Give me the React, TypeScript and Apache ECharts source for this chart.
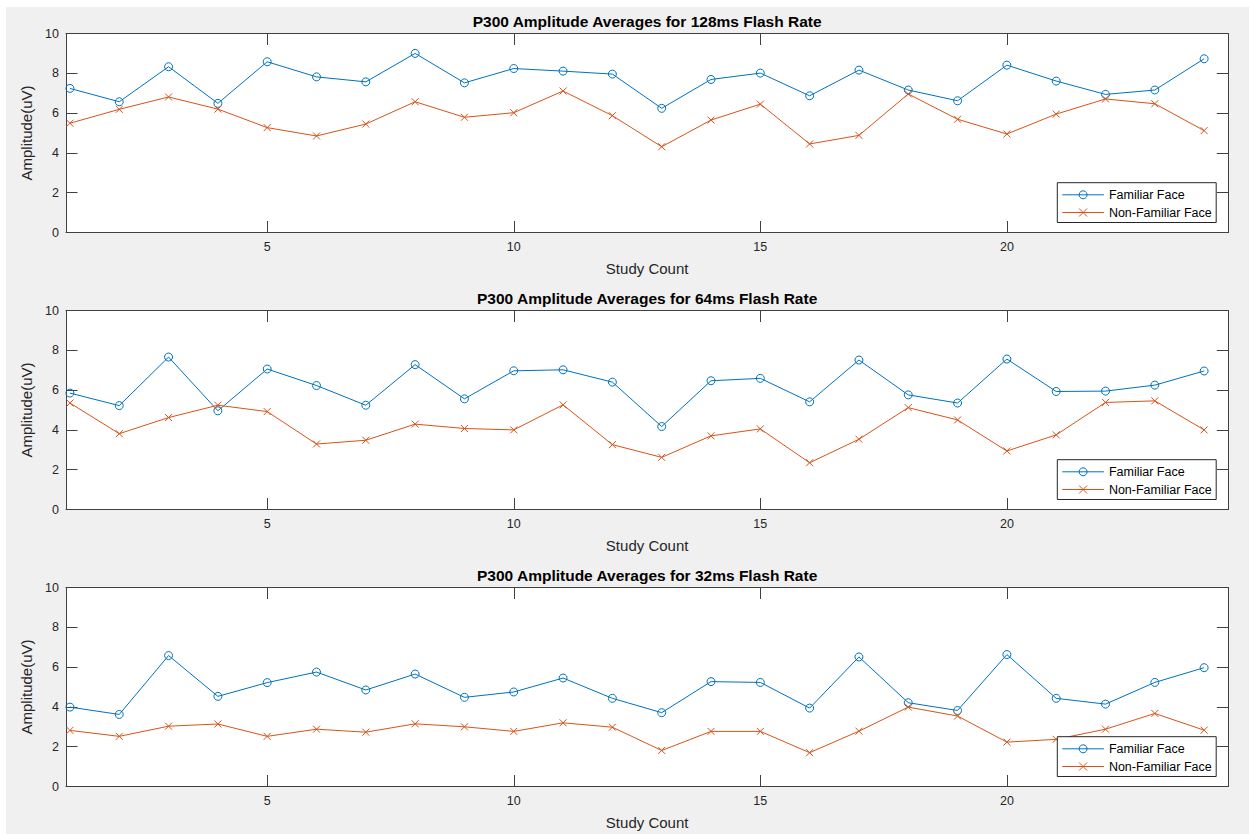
import React, { useEffect, useRef } from "react";
import * as echarts from "echarts";

const studyCount = [1,2,3,4,5,6,7,8,9,10,11,12,13,14,15,16,17,18,19,20,21,22,23,24];
const titles = [
  "P300 Amplitude Averages for 128ms Flash Rate",
  "P300 Amplitude Averages for 64ms Flash Rate",
  "P300 Amplitude Averages for 32ms Flash Rate",
];
const seriesNames = ["Familiar Face", "Non-Familiar Face"];
const xTickValues = [5, 10, 15, 20];

const familiar128 = [7.24,6.57,8.33,6.49,8.58,7.82,7.57,9.0,7.52,8.24,8.11,7.96,6.24,7.69,8.01,6.87,8.16,7.16,6.62,8.41,7.61,6.94,7.16,8.73];
const nonFamiliar128 = [5.49,6.19,6.81,6.2,5.27,4.85,5.45,6.57,5.79,6.02,7.11,5.87,4.31,5.65,6.45,4.45,4.88,6.96,5.69,4.95,5.95,6.71,6.47,5.12];
const familiar64 = [5.85,5.22,7.66,4.96,7.06,6.23,5.24,7.28,5.56,6.97,7.02,6.4,4.17,6.47,6.59,5.41,7.51,5.76,5.35,7.56,5.93,5.95,6.25,6.96];
const nonFamiliar64 = [5.35,3.81,4.62,5.24,4.92,3.29,3.48,4.29,4.07,4.0,5.26,3.26,2.62,3.7,4.05,2.35,3.53,5.12,4.5,2.94,3.75,5.38,5.46,4.0];
const familiar32 = [3.99,3.62,6.58,4.53,5.22,5.75,4.85,5.65,4.48,4.75,5.45,4.43,3.71,5.27,5.23,3.94,6.51,4.21,3.82,6.63,4.43,4.14,5.23,5.97];
const nonFamiliar32 = [2.82,2.52,3.03,3.14,2.52,2.88,2.73,3.15,3.0,2.77,3.2,2.98,1.81,2.77,2.77,1.7,2.78,3.99,3.54,2.23,2.37,2.88,3.67,2.83];

const panels = [
  [familiar128, nonFamiliar128],
  [familiar64, nonFamiliar64],
  [familiar32, nonFamiliar32],
];

const FONT = '"Liberation Sans", Arial, Helvetica, sans-serif';
const AX = "#404040";
const TXT = "#262626";
const BLUE = "#0072BD";
const ORANGE = "#D95319";
const GRID_LEFT = 66;
const GRID_W = 1162.3;
const GRID_H = 199;
const GRID_TOPS = [33.5, 310.5, 587.5];
const X_MIN = 0.92;
const X_MAX = 24.49;
const TICK_LEN = 11.5;

function buildOption() {
  const grid = GRID_TOPS.map((t) => ({
    left: GRID_LEFT,
    top: t,
    width: GRID_W,
    height: GRID_H,
    show: true,
    backgroundColor: "#ffffff",
    borderWidth: 0,
  }));

  const xBottom = GRID_TOPS.map((_, i) => ({
    gridIndex: i,
    type: "value",
    min: X_MIN,
    max: X_MAX,
    position: "bottom",
    axisLine: { show: true, onZero: false, lineStyle: { color: AX, width: 1 } },
    axisTick: { show: true, inside: true, length: TICK_LEN, customValues: xTickValues, lineStyle: { color: AX } },
    axisLabel: { show: true, customValues: xTickValues, fontSize: 12.5, color: TXT, fontFamily: FONT, margin: 8 },
    splitLine: { show: false },
    name: "Study Count",
    nameLocation: "middle",
    nameGap: 28,
    nameTextStyle: { fontSize: 15, color: TXT, fontFamily: FONT },
  }));
  const xTop = GRID_TOPS.map((_, i) => ({
    gridIndex: i,
    type: "value",
    min: X_MIN,
    max: X_MAX,
    position: "top",
    axisLine: { show: true, onZero: false, lineStyle: { color: AX, width: 1 } },
    axisTick: { show: true, inside: true, length: TICK_LEN, customValues: xTickValues, lineStyle: { color: AX } },
    axisLabel: { show: false },
    splitLine: { show: false },
  }));

  const yLeft = GRID_TOPS.map((_, i) => ({
    gridIndex: i,
    type: "value",
    min: 0,
    max: 10,
    interval: 2,
    position: "left",
    axisLine: { show: true, onZero: false, lineStyle: { color: AX, width: 1 } },
    axisTick: { show: true, inside: true, length: TICK_LEN, lineStyle: { color: AX } },
    axisLabel: { show: true, fontSize: 12.5, color: TXT, fontFamily: FONT, margin: 7 },
    splitLine: { show: false },
    name: "Amplitude(uV)",
    nameLocation: "middle",
    nameGap: 26,
    nameTextStyle: { fontSize: 15, color: TXT, fontFamily: FONT },
  }));
  const yRight = GRID_TOPS.map((_, i) => ({
    gridIndex: i,
    type: "value",
    min: 0,
    max: 10,
    interval: 2,
    position: "right",
    axisLine: { show: true, onZero: false, lineStyle: { color: AX, width: 1 } },
    axisTick: { show: true, inside: true, length: TICK_LEN, lineStyle: { color: AX } },
    axisLabel: { show: false },
    splitLine: { show: false },
  }));

  const series: any[] = [];
  panels.forEach((pair, i) => {
    series.push({
      name: seriesNames[0],
      type: "line",
      xAxisIndex: i,
      yAxisIndex: i,
      data: studyCount.map((x, k) => [x, pair[0][k]]),
      symbol: "circle",
      symbolSize: 8,
      showAllSymbol: true,
      lineStyle: { color: BLUE, width: 1 },
      itemStyle: { color: "rgba(255,255,255,0)", borderColor: BLUE, borderWidth: 1 },
      z: 3,
    });
    series.push({
      name: seriesNames[1],
      type: "line",
      xAxisIndex: i,
      yAxisIndex: i,
      data: studyCount.map((x, k) => [x, pair[1][k]]),
      symbol: "path://M0,0L10,10M10,0L0,10",
      symbolSize: 7,
      showAllSymbol: true,
      lineStyle: { color: ORANGE, width: 1 },
      itemStyle: { color: "none", borderColor: ORANGE, borderWidth: 1 },
      z: 3,
    });
  });

  const legend = GRID_TOPS.map((t) => ({
    left: 1057.3,
    top: t + GRID_H - 49.8,
    orient: "vertical",
    data: seriesNames,
    itemWidth: 41.6,
    itemHeight: 10,
    itemGap: 4.7,
    padding: [5.6, 4.5, 3.5, 4.5],
    backgroundColor: "#ffffff",
    borderColor: "#262626",
    borderWidth: 1,
    borderRadius: 0,
    selectedMode: false,
    lineStyle: { width: 1 },
    itemStyle: { borderWidth: 1 },
    textStyle: { fontSize: 12.5, color: "#000", fontFamily: FONT, lineHeight: 12 },
    z: 10,
  }));

  const graphic = titles.map((t, i) => ({
    type: "text",
    x: GRID_LEFT + GRID_W / 2,
    y: GRID_TOPS[i] - 12.5,
    z: 10,
    style: {
      text: t,
      fill: "#000",
      fontSize: 15.5,
      fontWeight: "bold",
      fontFamily: FONT,
      align: "center",
      verticalAlign: "middle",
      textAlign: "center",
      textVerticalAlign: "middle",
    },
  }));

  return {
    animation: false,
    backgroundColor: "transparent",
    grid,
    xAxis: [...xBottom, ...xTop],
    yAxis: [...yLeft, ...yRight],
    series,
    legend,
    graphic,
  };
}

export default function App() {
  const ref = useRef<HTMLDivElement>(null);
  useEffect(() => {
    if (!ref.current) return;
    const chart = echarts.init(ref.current, undefined, { renderer: "svg" });
    chart.setOption(buildOption() as any);
    return () => chart.dispose();
  }, []);
  return (
    <div style={{ position: "fixed", left: 0, top: 0, width: 1249, height: 834, background: "#ffffff", overflow: "hidden" }}>
      <div style={{ position: "absolute", left: 6, top: 7, right: 0, bottom: 0, background: "#f0f0f0" }} />
      <div ref={ref} style={{ position: "absolute", left: 0, top: 0, width: 1249, height: 834 }} />
    </div>
  );
}
